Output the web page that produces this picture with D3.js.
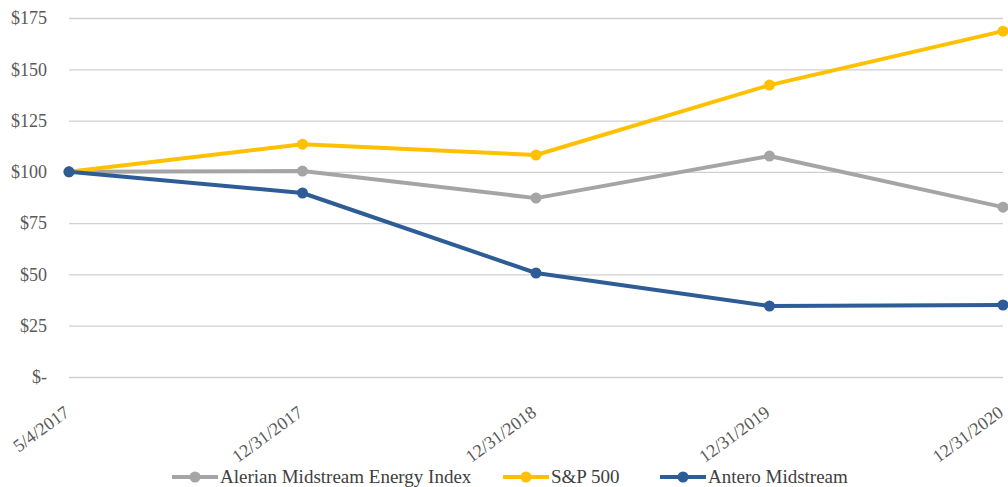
<!DOCTYPE html>
<html>
<head>
<meta charset="utf-8">
<script src="https://cdn.jsdelivr.net/npm/d3@7"></script>
<style>
  body { margin: 0; background: #fff; }
</style>
</head>
<body>
<svg id="chart"></svg>
<script>
const width = 1008;
const height = 487;
const FONT = '"Liberation Serif"';

const dates = ["5/4/2017", "12/31/2017", "12/31/2018", "12/31/2019", "12/31/2020"];
const alerian = [100, 100.4, 87.2, 107.7, 82.8];
const sp500 = [100, 113.5, 108.2, 142.3, 168.6];
const antero = [100, 89.7, 50.7, 34.6, 35.1];
const yTicks = [0, 25, 50, 75, 100, 125, 150, 175];

const series = [
  {name: "Alerian Midstream Energy Index", values: alerian, color: "#a5a5a5"},
  {name: "S&P 500", values: sp500, color: "#ffc000"},
  {name: "Antero Midstream", values: antero, color: "#2e5c96"}
];

const margin = {top: 18, right: 5, bottom: 110, left: 69};

const svg = d3.select("#chart")
    .attr("width", width)
    .attr("height", height);

const x = d3.scalePoint()
    .domain(dates)
    .range([margin.left, width - margin.right]);

const y = d3.scaleLinear()
    .domain([0, 175])
    .range([height - margin.bottom, margin.top]);

// grid lines + y labels
const yAxis = d3.axisLeft(y)
    .tickValues(yTicks)
    .tickSize(-(width - margin.right - margin.left))
    .tickPadding(22)
    .tickFormat(d => d === 0 ? "$-" : "$" + d);

svg.append("g")
    .attr("transform", `translate(${margin.left},0)`)
    .call(yAxis)
    .attr("font-family", null)
    .call(g => g.select(".domain").remove())
    .call(g => g.selectAll(".tick line").attr("stroke", "#d0d0d0").attr("stroke-width", 1.3))
    .call(g => g.selectAll(".tick text")
        .attr("fill", "#595959")
        .style("font-family", FONT)
        .style("font-size", "18px"));

// x labels, rotated
const xAxis = d3.axisBottom(x).tickSize(0).tickPadding(0);
svg.append("g")
    .attr("transform", `translate(0,${y(0)})`)
    .call(xAxis)
    .attr("font-family", null)
    .call(g => g.select(".domain").remove())
    .call(g => g.selectAll(".tick text")
        .attr("fill", "#595959")
        .style("font-family", FONT)
        .style("font-size", "18px")
        .attr("text-anchor", "end")
        .attr("dy", 0)
        .attr("transform", "translate(1,38) rotate(-36)"));

const line = d3.line()
    .x((d, i) => x(dates[i]))
    .y(d => y(d));

series.forEach(s => {
  svg.append("path")
      .datum(s.values)
      .attr("fill", "none")
      .attr("stroke", s.color)
      .attr("stroke-width", 4)
      .attr("stroke-linejoin", "round")
      .attr("d", line);

  svg.append("g")
      .selectAll("circle")
      .data(s.values)
      .enter()
      .append("circle")
      .attr("cx", (d, i) => x(dates[i]))
      .attr("cy", d => y(d))
      .attr("r", 5.5)
      .attr("fill", s.color);
});

// legend
const legendX = [172, 503, 660];
const legend = svg.append("g").attr("transform", "translate(0,477)");
series.forEach((s, i) => {
  const g = legend.append("g").attr("transform", `translate(${legendX[i]},0)`);
  g.append("line")
      .attr("x1", 0).attr("x2", 46)
      .attr("stroke", s.color)
      .attr("stroke-width", 4);
  g.append("circle")
      .attr("cx", 23).attr("r", 5.5)
      .attr("fill", s.color);
  g.append("text")
      .attr("x", 48)
      .attr("y", 5.5)
      .attr("fill", "#404040")
      .style("font-family", FONT)
      .style("font-size", "19px")
      .text(s.name);
});
</script>
</body>
</html>
